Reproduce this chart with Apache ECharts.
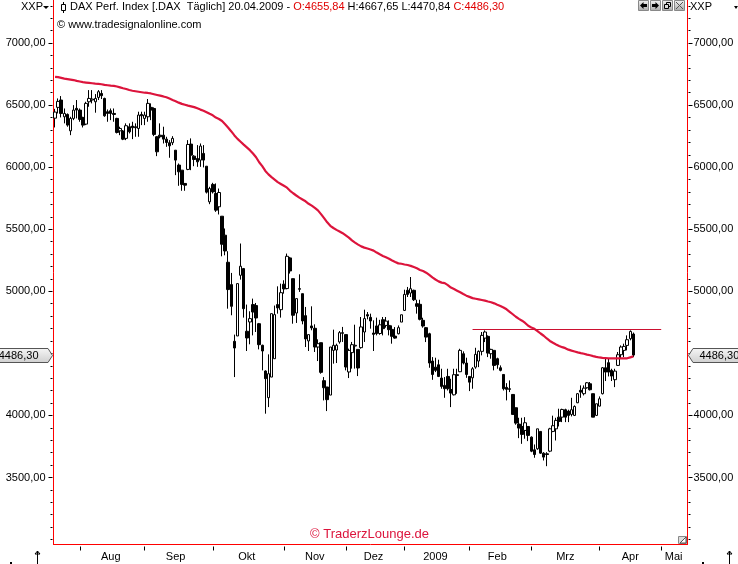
<!DOCTYPE html>
<html>
<head>
<meta charset="utf-8">
<title>DAX Perf. Index</title>
<script src="https://cdn.jsdelivr.net/npm/echarts@6/dist/echarts.min.js"></script>
<style>
  html, body { margin: 0; padding: 0; background: #fff; }
  #chart { width: 738px; height: 564px; }
</style>
</head>
<body>
<div id="chart"></div>
<script>
const opens = [
  6395,6482,6541,6406,6425,6293,6393,6474,6460,6401,
  6347,6527,6541,6527,6562,6594,6554,6447,6455,6433,
  6393,6293,6291,6232,6326,6331,6326,6312,6425,6393,
  6406,6482,6473,6245,6258,6258,6226,6197,6197,6137,
  6017,5976,5869,5982,6186,6089,6070,6057,6111,6008,
  5721,5861,5788,5681,5605,5452,5234,5054,4597,4640,
  5129,5183,4678,4753,4893,4885,4739,4565,4358,4143,
  4309,4457,4893,4852,5057,5022,5269,5102,4825,5016,
  4981,4804,4600,4721,4702,4551,4586,4280,4229,4164,
  4524,4527,4592,4661,4651,4350,4506,4559,4532,4546,
  4672,4812,4790,4664,4721,4660,4771,4725,4725,4693,
  4639,4658,4752,4846,5008,4986,5008,4900,4895,4766,
  4707,4658,4438,4389,4408,4301,4242,4314,4209,4166,
  4328,4352,4497,4422,4314,4303,4389,4438,4516,4623,
  4637,4497,4524,4457,4384,4330,4226,4215,4169,4062,
  3930,3911,3879,3911,3825,3723,3731,3871,3696,3691,
  3712,3871,3892,3986,3986,4046,4035,4008,4000,4102,
  4202,4175,4223,4255,4175,4000,4075,4175,4384,4425,
  4363,4288,4403,4489,4524,4564,4618,4655.84
];
const highs = [
  6470,6554,6573,6473,6433,6406,6500,6541,6473,6406,
  6527,6621,6621,6589,6621,6621,6560,6465,6473,6473,
  6398,6326,6299,6353,6353,6366,6353,6447,6447,6447,
  6549,6514,6482,6250,6353,6326,6245,6218,6250,6137,
  6030,5976,5869,6218,6232,6097,6178,6191,6178,6008,
  5842,5874,5869,5828,5605,5506,5323,5148,4651,5062,
  5385,5188,4893,4839,4941,4906,4745,4570,4363,4492,
  4820,4885,5040,5062,5089,5304,5277,5102,4941,5137,
  4981,4874,4651,4879,4734,4613,4586,4309,4229,4551,
  4691,4578,4680,4713,4651,4538,4592,4731,4532,4793,
  4852,4833,4820,4766,4788,4770,4793,4793,4766,4725,
  4712,4725,4811,5013,5035,5115,5013,4932,4932,4787,
  4712,4666,4470,4465,4449,4376,4309,4376,4295,4376,
  4376,4537,4516,4465,4314,4389,4545,4524,4672,4685,
  4645,4537,4524,4465,4403,4330,4260,4282,4169,4062,
  3981,3981,3986,3911,3831,3766,3892,3871,3704,3704,
  3900,3998,3981,4054,4054,4054,4046,4142,4081,4180,
  4242,4242,4269,4269,4175,4094,4153,4390,4457,4457,
  4376,4376,4511,4564,4578,4645,4685,4667.65
];
const lows = [
  6320,6433,6401,6353,6326,6258,6379,6393,6366,6320,
  6339,6487,6514,6439,6541,6549,6406,6366,6379,6366,
  6272,6258,6218,6218,6272,6226,6245,6245,6339,6339,
  6366,6379,6250,6089,6232,6191,6164,6076,6178,5936,
  5850,5810,5810,5976,5976,6008,6003,6003,5998,5788,
  5702,5788,5640,5619,5282,5290,4860,4807,4309,4640,
  5094,4788,4519,4573,4645,4672,4532,4363,4014,4067,
  4309,4457,4820,4788,4981,5016,5143,4739,4745,4995,
  4734,4551,4519,4686,4511,4438,4336,4121,4035,4164,
  4417,4422,4578,4592,4363,4301,4377,4377,4317,4538,
  4592,4774,4699,4519,4645,4650,4645,4707,4645,4578,
  4618,4653,4752,4841,4954,4954,4922,4820,4766,4707,
  4591,4384,4287,4349,4309,4215,4142,4201,4067,4161,
  4174,4349,4411,4303,4196,4215,4376,4389,4484,4591,
  4470,4457,4363,4376,4355,4201,4121,4188,4008,3925,
  3817,3771,3812,3793,3704,3659,3723,3691,3637,3591,
  3704,3865,3798,3911,3946,3946,3946,3992,3995,4099,
  4142,4161,4215,4201,3986,3995,4072,4169,4277,4314,
  4277,4228,4398,4457,4470,4524,4605,4470.84
];
const closes = [
  6444,6530,6433,6433,6339,6393,6460,6460,6385,6339,
  6514,6554,6549,6554,6608,6576,6414,6433,6433,6425,
  6280,6312,6226,6334,6285,6318,6318,6420,6414,6420,
  6514,6460,6264,6124,6245,6226,6199,6172,6232,6057,
  5963,5861,5855,6183,6097,6062,6043,6170,6057,5799,
  5828,5801,5654,5796,5379,5325,5014,4879,4543,5062,
  5202,4860,4624,4780,4833,4785,4570,4519,4296,4336,
  4820,4812,4866,4989,5019,5282,5164,4807,4941,5022,
  4761,4616,4651,4705,4551,4578,4347,4223,4127,4551,
  4565,4565,4667,4667,4390,4524,4570,4565,4382,4713,
  4780,4801,4761,4653,4659,4730,4699,4760,4691,4637,
  4623,4707,4811,4975,4975,5021,4932,4879,4774,4720,
  4631,4422,4330,4363,4314,4234,4215,4215,4180,4328,
  4322,4524,4422,4330,4268,4376,4492,4516,4645,4672,
  4502,4532,4403,4408,4363,4215,4210,4210,4008,3938,
  3898,3847,3941,3839,3712,3685,3892,3696,3664,3685,
  3892,3917,3960,3952,4048,3986,4000,4046,4072,4175,
  4188,4220,4263,4207,3986,4094,4134,4384,4349,4349,
  4317,4357,4489,4551,4556,4610,4677,4486.30
];
// the red moving average, one reading per bar
const movingAvg = [
  6728,6725,6720,6714,6710,6706,6702,6695,6690,6685,
  6682,6679,6676,6673,6671,6668,6663,6660,6657,6655,
  6650,6643,6636,6630,6622,6616,6612,6608,6604,6600,
  6598,6594,6588,6582,6576,6570,6563,6553,6542,6532,
  6520,6510,6503,6496,6490,6484,6474,6464,6455,6443,
  6430,6418,6400,6388,6372,6346,6318,6288,6256,6228,
  6205,6182,6160,6137,6110,6080,6040,6008,5970,5942,
  5920,5900,5880,5865,5850,5835,5810,5790,5772,5755,
  5740,5725,5705,5690,5672,5652,5622,5590,5556,5528,
  5510,5495,5482,5468,5450,5432,5410,5392,5376,5362,
  5352,5345,5337,5328,5312,5298,5285,5274,5262,5248,
  5236,5225,5222,5216,5212,5205,5195,5185,5172,5163,
  5150,5132,5112,5095,5080,5070,5066,5050,5030,5018,
  5005,4992,4978,4965,4955,4945,4940,4935,4930,4925,
  4918,4912,4903,4892,4882,4870,4855,4835,4815,4795,
  4778,4763,4745,4722,4708,4698,4680,4660,4642,4620,
  4600,4585,4572,4560,4550,4542,4530,4522,4515,4508,
  4502,4497,4490,4485,4478,4472,4467,4463,4462,4460,
  4460,4460,4459,4459,4460,4460,4468,4476
];
const resistance = 4692;
const resistanceFrom = 135;
const resistanceTo = 196;

const priceLabels = [3500,4000,4500,5000,5500,6000,6500,7000];
const priceTicks = [3000,3100,3200,3300,3400,3600,3700,3800,3900,4100,4200,4300,4400,4600,4700,4800,4900,
  5100,5200,5300,5400,5600,5700,5800,5900,6100,6200,6300,6400,6600,6700,6800,6900,7100,7200,7300];

const monthNames = ['Aug','Sep','Okt','Nov','Dez','2009','Feb','Mrz','Apr','Mai'];
const monthLabelBars = [18,39,62,84,103,123,143,165,186,200];
const monthStartBars = [8,29,51,74,94,113,134,154,176,196];

const barSlots = 205;
const yMin = 2960, yMax = 7347;
const uiFont = '"Liberation Sans", Arial, sans-serif';
const RED = '#ff0000', CRIMSON = '#dc143c';

let categories = [];
for (let i = 0; i < barSlots; i++) categories.push(String(i));

let candles = opens.map((o, i) => [o, closes[i], lows[i], highs[i]]);

function fmt(v) { return v.toFixed(2).replace('.', ','); }

function plainTitle(left, top, text, color, size) {
  return {
    left: left, top: top, padding: 0, text: text,
    textStyle: { color: color, fontFamily: uiFont, fontSize: size, fontWeight: 'normal' }
  };
}

// ticks sit 1px off the red line, so the ticks and the line are separate axes
function tickAxis(position, values, len, withLabels, margin) {
  return {
    type: 'value', position: position, min: yMin, max: yMax, offset: 1,
    axisLine: { show: false },
    splitLine: { show: false },
    axisTick: { show: true, length: len, customValues: values, lineStyle: { color: '#000', width: 1 } },
    axisLabel: {
      show: withLabels, customValues: values, margin: margin, color: '#000',
      fontFamily: uiFont, fontSize: 11, padding: [4, 0, 0, 0], formatter: fmt
    }
  };
}
function lineAxis(position) {
  return {
    type: 'value', position: position, min: yMin, max: yMax,
    axisLine: { show: true, lineStyle: { color: RED, width: 1 } },
    axisTick: { show: false }, axisLabel: { show: false }, splitLine: { show: false }
  };
}

const chart = echarts.init(document.getElementById('chart'), null, { renderer: 'canvas' });

chart.setOption({
  animation: false,
  backgroundColor: '#fff',
  grid: { left: 53.5, right: 50.5, top: 0, bottom: 19.5 },
  title: [
    {
      left: 70, top: 1, padding: 0,
      text: '{k|DAX Perf. Index [.DAX  Täglich] 20.04.2009 - }{r|O:4655,84 }{k|H:4667,65 L:4470,84 }{r|C:4486,30}',
      textStyle: {
        rich: {
          k: { color: '#000', fontFamily: uiFont, fontSize: 11, fontWeight: 'normal' },
          r: { color: '#e00000', fontFamily: uiFont, fontSize: 11, fontWeight: 'normal' }
        }
      }
    },
    plainTitle(57, 19, '© www.tradesignalonline.com', '#000', 11),
    plainTitle(21, 1, 'XXP', '#000', 11),
    plainTitle(690, 1, 'XXP', '#000', 11),
    plainTitle(310, 528, '© TraderzLounge.de', CRIMSON, 13)
  ],
  xAxis: [
    {
      type: 'category', data: categories, offset: 2,
      axisLine: { show: false },
      axisTick: {
        show: true, alignWithLabel: true, length: 4,
        interval: function (i) { return monthStartBars.indexOf(i) >= 0; },
        lineStyle: { color: '#000' }
      },
      axisLabel: {
        margin: 5, color: '#000', fontFamily: uiFont, fontSize: 11,
        interval: function (i) { return monthLabelBars.indexOf(i) >= 0; },
        formatter: function (v) { return monthNames[monthLabelBars.indexOf(Number(v))]; }
      },
      splitLine: { show: false }
    },
    {
      type: 'category', data: categories, position: 'bottom',
      axisLine: { show: true, onZero: false, lineStyle: { color: RED, width: 1 } },
      axisTick: { show: false }, axisLabel: { show: false }, splitLine: { show: false }
    }
  ],
  yAxis: [
    tickAxis('left', priceLabels, 4, true, 7),
    tickAxis('right', priceLabels, 4, true, 5),
    tickAxis('left', priceTicks, 2, false, 0),
    tickAxis('right', priceTicks, 2, false, 0),
    lineAxis('left'),
    lineAxis('right')
  ],
  series: [
    {
      type: 'candlestick', data: candles, barWidth: 3, clip: false,
      itemStyle: { color: '#fff', color0: '#000', borderColor: '#000', borderColor0: '#000', borderWidth: 1 },
      markLine: {
        silent: true, symbol: 'none', animation: false,
        label: { show: false },
        lineStyle: { color: '#cc1030', width: 1, type: 'solid' },
        data: [[{ coord: [resistanceFrom, resistance] }, { coord: [resistanceTo, resistance] }]]
      }
    },
    {
      type: 'line', data: movingAvg, symbol: 'none', smooth: false, z: 3,
      lineStyle: { color: CRIMSON, width: 2.2 }
    }
  ]
});

// window furniture around the plot
function button(x, children) {
  return {
    type: 'group', x: x, y: 0,
    children: [{
      type: 'rect', shape: { x: 0.5, y: 0.5, width: 10, height: 10 },
      style: {
        stroke: '#888', lineWidth: 1,
        fill: new echarts.graphic.LinearGradient(0, 0, 0, 1, [{ offset: 0, color: '#f4f4f4' }, { offset: 1, color: '#a8a8a8' }])
      }
    }].concat(children)
  };
}
function priceTag(points, textX, align, y) {
  return [
    {
      type: 'polygon', shape: { points: points }, z: 10,
      style: {
        stroke: '#555', lineWidth: 1,
        fill: new echarts.graphic.LinearGradient(0, 0, 0, 1, [{ offset: 0, color: '#f6f6f6' }, { offset: 1, color: '#cfcfcf' }])
      }
    },
    {
      type: 'text', x: textX, y: y + 0.5, z: 11,
      style: { text: fmt(closes[closes.length - 1]), fill: '#000', font: '11px ' + uiFont, align: align, verticalAlign: 'middle' }
    }
  ];
}

const lastY = Math.round(chart.convertToPixel({ yAxisIndex: 0 }, closes[closes.length - 1])) + 0.5;
let furniture = [
  // drop-down triangles
  { type: 'polygon', shape: { points: [[43, 6], [49, 6], [46, 9]] }, style: { fill: '#000' } },
  { type: 'polygon', shape: { points: [[734, 6], [738, 6], [736, 9]] }, style: { fill: '#000' } },
  // candle glyph in the header
  { type: 'line', shape: { x1: 63.5, y1: 2, x2: 63.5, y2: 13 }, style: { stroke: '#000', lineWidth: 1 } },
  { type: 'rect', shape: { x: 61.5, y: 4.5, width: 4, height: 6 }, style: { stroke: '#000', fill: '#fff', lineWidth: 1 } },
  // window buttons
  button(638, [{ type: 'polygon', shape: { points: [[2, 5.5], [5.5, 2], [5.5, 4], [9, 4], [9, 7], [5.5, 7], [5.5, 9]] }, style: { fill: '#000' } }]),
  button(650, [{ type: 'polygon', shape: { points: [[9, 5.5], [5.5, 2], [5.5, 4], [2, 4], [2, 7], [5.5, 7], [5.5, 9]] }, style: { fill: '#000' } }]),
  button(662, [
    { type: 'rect', shape: { x: 4.5, y: 2.5, width: 4, height: 4 }, style: { stroke: '#000', fill: 'none', lineWidth: 1 } },
    { type: 'rect', shape: { x: 2.5, y: 4.5, width: 4, height: 4 }, style: { stroke: '#000', fill: '#ddd', lineWidth: 1 } }
  ]),
  button(674, [
    { type: 'line', shape: { x1: 2, y1: 2, x2: 9, y2: 9 }, style: { stroke: '#555', lineWidth: 1 } },
    { type: 'line', shape: { x1: 9, y1: 2, x2: 2, y2: 9 }, style: { stroke: '#555', lineWidth: 1 } }
  ]),
  // resize handle, bottom right of the plot
  { type: 'rect', shape: { x: 678.5, y: 536.5, width: 8, height: 7 }, z: 9, style: { stroke: '#888', fill: '#ddd', lineWidth: 1 } },
  { type: 'polygon', shape: { points: [[686, 537], [686, 543], [680, 543]] }, z: 9, style: { fill: '#fff', stroke: '#555', lineWidth: 1 } },
  // up arrows under the axes
  { type: 'line', shape: { x1: 37.5, y1: 551, x2: 37.5, y2: 564 }, style: { stroke: '#000', lineWidth: 1 } },
  { type: 'polygon', shape: { points: [[35, 554], [37.5, 551], [40, 554]] }, style: { stroke: '#000', fill: 'none', lineWidth: 1 } },
  { type: 'line', shape: { x1: 729.5, y1: 551, x2: 729.5, y2: 564 }, style: { stroke: '#000', lineWidth: 1 } },
  { type: 'polygon', shape: { points: [[727, 554], [729.5, 551], [732, 554]] }, style: { stroke: '#000', fill: 'none', lineWidth: 1 } },
  { type: 'rect', shape: { x: 10, y: 562, width: 2, height: 2 }, style: { fill: '#000' } },
  { type: 'rect', shape: { x: 702, y: 562, width: 2, height: 2 }, style: { fill: '#000' } }
];
furniture = furniture
  .concat(priceTag([[-5, lastY - 7], [48, lastY - 7], [52.5, lastY], [48, lastY + 7], [-5, lastY + 7]], 38.5, 'right', lastY))
  .concat(priceTag([[743, lastY - 7], [693, lastY - 7], [688.5, lastY], [693, lastY + 7], [743, lastY + 7]], 699.5, 'left', lastY));

chart.setOption({ graphic: furniture });
</script>
</body>
</html>
